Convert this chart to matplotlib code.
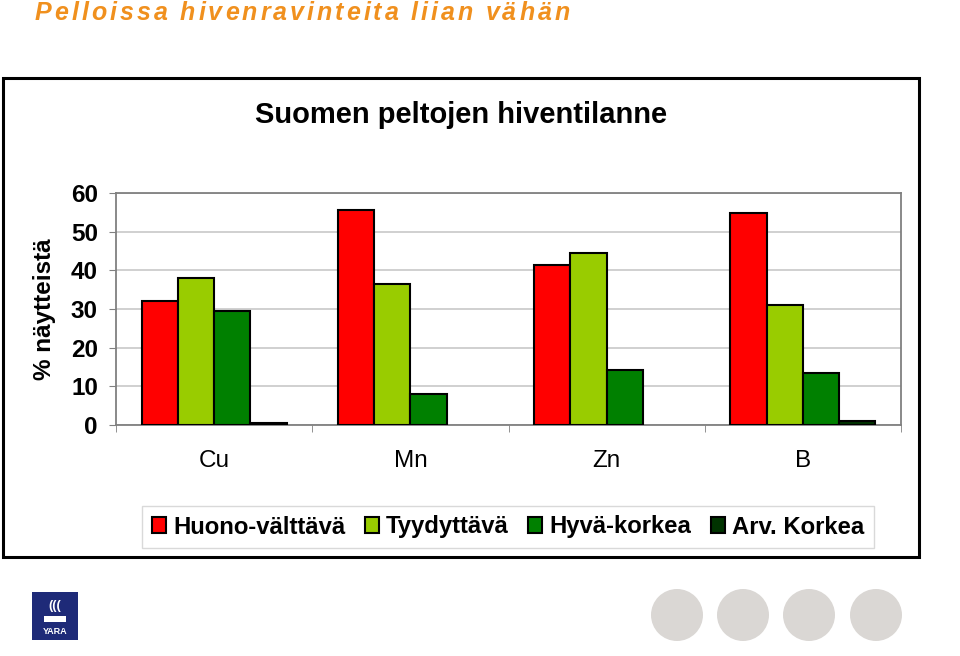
import matplotlib
matplotlib.use("Agg")
import matplotlib.pyplot as plt
import numpy as np
from matplotlib.patches import Rectangle, Ellipse

plt.rcParams["font.family"] = ["Liberation Sans", "DejaVu Sans"]

# data
ELEMENTS = ["Cu", "Mn", "Zn", "B"]
CLASSES = ["Huono-välttävä", "Tyydyttävä", "Hyvä-korkea", "Arv. Korkea"]
COLORS = ["#FF0000", "#99CC00", "#008000", "#003300"]
huono = [32.0, 55.6, 41.4, 54.7]
tyydyttava = [37.9, 36.4, 44.4, 31.0]
hyva = [29.6, 7.9, 14.3, 13.4]
arv_korkea = [0.6, 0.0, 0.0, 1.1]
YTICKS = [0, 10, 20, 30, 40, 50, 60]

HEADER = "Pelloissa hivenravinteita liian vähän"
TITLE = "Suomen peltojen hiventilanne"
YLABEL = "% näytteistä"

W, H = 960, 656
fig = plt.figure(figsize=(W / 100, H / 100), dpi=100)


def px(x, y):
    return x / W, 1 - y / H


# outer chart frame
fig.patches.append(Rectangle(px(3, 557), 916 / W, 479 / H, transform=fig.transFigure,
                             fill=False, edgecolor="black", linewidth=2.2))

ax = fig.add_axes([116 / W, 1 - 425 / H, 785 / W, 232 / H])
series = [huono, tyydyttava, hyva, arv_korkea]
bw = 0.185
x = np.arange(len(ELEMENTS))
for k, (vals, col, name) in enumerate(zip(series, COLORS, CLASSES)):
    bars = ax.bar(x + (k - 1.5) * bw, vals, width=bw, color=col, edgecolor="black",
                  linewidth=1.5, label=name, zorder=3)
    for b, v in zip(bars, vals):
        if v == 0:
            b.set_visible(False)

ax.set_xlim(-0.5, len(ELEMENTS) - 0.5)
ax.set_ylim(0, 60)
ax.set_yticks(YTICKS)
ax.set_yticklabels([str(t) for t in YTICKS], fontsize=17.5, fontweight="bold")
ax.yaxis.grid(True, color="#C8C8C8", linewidth=1.2, zorder=0)
ax.set_axisbelow(True)
ax.set_xticks(x)
ax.set_xticklabels(ELEMENTS, fontsize=17.5)
ax.set_xticks(np.arange(-0.5, len(ELEMENTS)), minor=True)
ax.tick_params(axis="x", which="major", length=0, pad=18)
ax.tick_params(axis="x", which="minor", length=5, color="#808080", direction="out")
ax.tick_params(axis="y", length=5, color="#808080", direction="out", pad=8)
for s in ax.spines.values():
    s.set_color("#808080")
    s.set_linewidth(1.3)

fig.text(*px(461, 115), TITLE, fontsize=21, fontweight="bold", ha="center", va="center")
fig.text(*px(44, 309), YLABEL, fontsize=17.5, fontweight="bold", rotation=90,
         ha="center", va="center")

leg = fig.legend(loc="center", bbox_to_anchor=(px(508, 527)), ncol=4, fontsize=17.2,
                 frameon=True, fancybox=False, edgecolor="#D0D0D0", handlelength=0.6,
                 handleheight=0.6, handletextpad=0.3, columnspacing=0.8,
                 borderpad=0.4)
leg.get_frame().set_linewidth(1.0)
for t in leg.get_texts():
    t.set_fontweight("bold")

# letter-spaced orange header
renderer = fig.canvas.get_renderer()
xpos = 35.0
for ch in HEADER:
    t = fig.text(*px(xpos, 13), ch, fontsize=18, fontweight="bold", style="italic",
                 color="#F0901E", ha="left", va="center")
    wpx = t.get_window_extent(renderer).width if ch != " " else 6.5
    xpos += wpx + 3.0

# footer: logo and grey circles
fig.patches.append(Rectangle(px(32, 640), 46 / W, 48 / H, transform=fig.transFigure,
                             facecolor="#1E2A78", edgecolor="none"))
fig.text(*px(55, 631), "YARA", fontsize=6.5, fontweight="bold", color="white",
         ha="center", va="center")
fig.text(*px(55, 606), "(((", fontsize=9, fontweight="bold", color="white",
         ha="center", va="center")
fig.patches.append(Rectangle(px(44, 622), 22 / W, 6 / H, transform=fig.transFigure,
                             facecolor="white", edgecolor="none"))
for cx in [677, 743, 809, 876]:
    fig.patches.append(Ellipse(px(cx, 615), 52 / W, 52 / H, transform=fig.transFigure,
                               facecolor="#DAD7D4", edgecolor="none"))

fig.savefig("out.png", dpi=100)
